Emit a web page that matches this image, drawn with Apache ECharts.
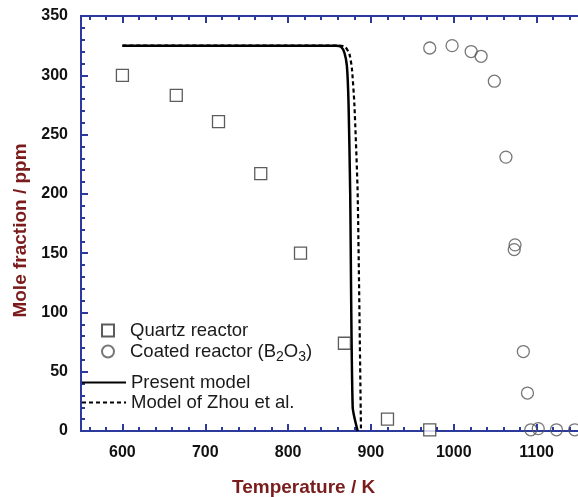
<!DOCTYPE html>
<html>
<head>
<meta charset="utf-8">
<script src="https://cdn.jsdelivr.net/npm/echarts@6/dist/echarts.min.js"></script>
<style>
  html, body { margin: 0; padding: 0; background: #fff; }
  #chart { width: 578px; height: 497px; }
</style>
</head>
<body>
<div id="chart"></div>
<script>
const xMajorTicks = [600, 700, 800, 900, 1000, 1100];
const xMinorTicks = [560, 580, 600, 620, 640, 660, 680, 700, 720, 740, 760, 780, 800,
  820, 840, 860, 880, 900, 920, 940, 960, 980, 1000, 1020, 1040, 1060, 1080, 1100, 1120, 1140];

const quartzReactor = [
  [600, 300], [665, 283], [716, 261], [767, 217], [815, 150],
  [868, 74], [920, 10], [971, 1]
];
const coatedReactor = [
  [971, 323], [998, 325], [1021, 320], [1033, 316], [1049, 295],
  [1063, 231], [1074, 157], [1073, 153], [1084, 67], [1089, 32],
  [1093, 1], [1102, 2], [1124, 1], [1146, 1]
];
const presentModel = [
  [600, 325], [858, 325], [864, 324], [868, 319], [871, 308],
  [873, 276], [875, 200], [878, 20], [884, 0]
];
const zhouModel = [
  [600, 325], [862, 325], [869, 324], [874, 318], [877, 306],
  [880, 276], [884, 200], [888, 0]
];

const axisBlue = "#2b3a9c";
const nameRed = "#7a1c1c";
const font = "Liberation Sans, Arial, sans-serif";

const chart = echarts.init(document.getElementById("chart"));

// x axis split in major/minor tick layers, bottom and top
const tickAxis = (position, values, len, showLabel) => ({
  type: "value",
  position: position,
  min: 550,
  max: 1150,
  axisLine: { show: true, onZero: false, lineStyle: { color: axisBlue, width: 2 } },
  axisTick: {
    show: true,
    inside: true,
    length: len,
    customValues: values,
    lineStyle: { color: axisBlue, width: 2 },
  },
  axisLabel: {
    show: showLabel,
    customValues: xMajorTicks,
    formatter: (v) => String(v),
    margin: 14,
    color: "#111",
    fontSize: 16,
    fontWeight: "bold",
    fontFamily: font,
  },
  splitLine: { show: false },
});

const option = {
  animation: false,
  title: {
    text: "Temperature / K",
    left: 232,
    top: 478,
    padding: 0,
    textStyle: { color: nameRed, fontSize: 19, fontWeight: "bold", fontFamily: font },
  },
  grid: { left: 81, top: 16, width: 500, height: 415 },
  xAxis: [
    tickAxis("bottom", xMajorTicks, 7, true),
    tickAxis("bottom", xMinorTicks, 4, false),
    tickAxis("top", xMajorTicks, 7, false),
    tickAxis("top", xMinorTicks, 4, false),
  ],
  yAxis: {
    type: "value",
    min: 0,
    max: 350,
    interval: 50,
    name: "Mole fraction / ppm",
    nameLocation: "middle",
    nameGap: 50,
    nameTextStyle: {
      color: nameRed,
      fontSize: 19,
      fontWeight: "bold",
      fontFamily: font,
      padding: [0, 14, 0, 0],
    },
    axisLine: { show: true, lineStyle: { color: axisBlue, width: 2 } },
    axisTick: { show: true, inside: true, length: 7, lineStyle: { color: axisBlue, width: 2 } },
    minorTick: { show: true, splitNumber: 5, length: 4, lineStyle: { color: axisBlue, width: 2 } },
    axisLabel: { margin: 13, color: "#111", fontSize: 16, fontWeight: "bold", fontFamily: font },
    splitLine: { show: false },
  },
  legend: [
    {
      orient: "vertical",
      left: 101,
      top: 321,
      padding: 0,
      itemWidth: 12,
      itemHeight: 12,
      itemGap: 2,
      data: [
        { name: "Quartz reactor", icon: "rect" },
        { name: "Coated reactor (B2O3)", icon: "circle" },
      ],
      formatter: (name) =>
        name === "Coated reactor (B2O3)" ? "Coated reactor (B{sub|2}O{sub|3})" : name,
      textStyle: {
        color: "#1a1a1a",
        fontSize: 18.5,
        fontFamily: font,
        padding: [0, 0, 0, 11],
        rich: {
          sub: { fontSize: 14, padding: [12, 0, 0, 0], color: "#1a1a1a", fontFamily: font },
        },
      },
    },
    {
      orient: "vertical",
      left: 81,
      top: 373,
      padding: 0,
      itemWidth: 44,
      itemHeight: 12,
      itemGap: 1,
      itemStyle: { opacity: 0 },
      data: ["Present model", "Model of Zhou et al."],
      textStyle: { color: "#1a1a1a", fontSize: 18.5, fontFamily: font },
    },
  ],
  series: [
    {
      name: "Quartz reactor",
      type: "scatter",
      symbol: "rect",
      symbolSize: 12,
      clip: false,
      data: quartzReactor,
      itemStyle: { color: "#fff", borderColor: "#333", borderWidth: 1.3 },
      z: 5,
    },
    {
      name: "Coated reactor (B2O3)",
      type: "scatter",
      symbol: "circle",
      symbolSize: 12,
      clip: false,
      data: coatedReactor,
      itemStyle: { color: "transparent", borderColor: "#555", borderWidth: 1.3 },
      z: 5,
    },
    {
      name: "Present model",
      type: "line",
      data: presentModel,
      showSymbol: false,
      symbol: "none",
      smooth: 0.2,
      itemStyle: { color: "#000" },
      lineStyle: { color: "#000", width: 2.5 },
    },
    {
      name: "Model of Zhou et al.",
      type: "line",
      data: zhouModel,
      showSymbol: false,
      symbol: "none",
      smooth: 0.2,
      itemStyle: { color: "#000" },
      lineStyle: { color: "#000", width: 2.2, type: [4, 3] },
    },
  ],
};

chart.setOption(option);
</script>
</body>
</html>
